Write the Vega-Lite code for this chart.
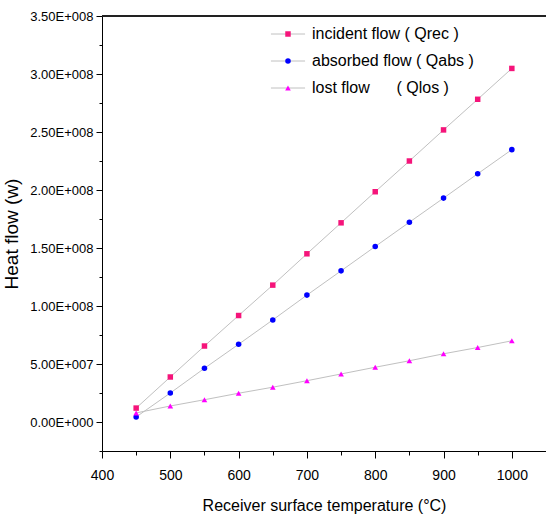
{
  "$schema": "https://vega.github.io/schema/vega-lite/v6.json",
  "width": 444,
  "height": 435,
  "autosize": "none",
  "padding": {"left": 102, "top": 16, "right": 0, "bottom": 68},
  "background": "white",
  "config": {
    "view": {"stroke": null},
    "font": "Liberation Sans",
    "axis": {
      "grid": false,
      "domainColor": "#000000",
      "domainWidth": 1,
      "tickColor": "#000000",
      "tickWidth": 1,
      "labelColor": "#000000",
      "labelFont": "Liberation Sans",
      "labelFontSize": 13,
      "titleFont": "Liberation Sans",
      "titleFontWeight": "normal",
      "titleColor": "#000000"
    },
    "legend": {
      "labelFont": "Liberation Sans",
      "labelFontSize": 16,
      "labelColor": "#000000",
      "labelLimit": 400,
      "padding": 0
    }
  },
  "data": {
    "values": [
      {"T": 450, "series": "incident flow ( Qrec )", "Q": 12000000},
      {"T": 500, "series": "incident flow ( Qrec )", "Q": 38800000},
      {"T": 550, "series": "incident flow ( Qrec )", "Q": 65500000},
      {"T": 600, "series": "incident flow ( Qrec )", "Q": 91800000},
      {"T": 650, "series": "incident flow ( Qrec )", "Q": 118000000},
      {"T": 700, "series": "incident flow ( Qrec )", "Q": 145000000},
      {"T": 750, "series": "incident flow ( Qrec )", "Q": 171700000},
      {"T": 800, "series": "incident flow ( Qrec )", "Q": 198500000},
      {"T": 850, "series": "incident flow ( Qrec )", "Q": 225000000},
      {"T": 900, "series": "incident flow ( Qrec )", "Q": 251800000},
      {"T": 950, "series": "incident flow ( Qrec )", "Q": 278200000},
      {"T": 1000, "series": "incident flow ( Qrec )", "Q": 304800000},
      {"T": 450, "series": "absorbed flow ( Qabs )", "Q": 4300000},
      {"T": 500, "series": "absorbed flow ( Qabs )", "Q": 25000000},
      {"T": 550, "series": "absorbed flow ( Qabs )", "Q": 46300000},
      {"T": 600, "series": "absorbed flow ( Qabs )", "Q": 67000000},
      {"T": 650, "series": "absorbed flow ( Qabs )", "Q": 88000000},
      {"T": 700, "series": "absorbed flow ( Qabs )", "Q": 109400000},
      {"T": 750, "series": "absorbed flow ( Qabs )", "Q": 130300000},
      {"T": 800, "series": "absorbed flow ( Qabs )", "Q": 151300000},
      {"T": 850, "series": "absorbed flow ( Qabs )", "Q": 172200000},
      {"T": 900, "series": "absorbed flow ( Qabs )", "Q": 193000000},
      {"T": 950, "series": "absorbed flow ( Qabs )", "Q": 214000000},
      {"T": 1000, "series": "absorbed flow ( Qabs )", "Q": 234800000},
      {"T": 450, "series": "lost flow\u00a0\u00a0\u00a0\u00a0\u00a0\u00a0( Qlos )", "Q": 7800000},
      {"T": 500, "series": "lost flow\u00a0\u00a0\u00a0\u00a0\u00a0\u00a0( Qlos )", "Q": 13800000},
      {"T": 550, "series": "lost flow\u00a0\u00a0\u00a0\u00a0\u00a0\u00a0( Qlos )", "Q": 19200000},
      {"T": 600, "series": "lost flow\u00a0\u00a0\u00a0\u00a0\u00a0\u00a0( Qlos )", "Q": 24800000},
      {"T": 650, "series": "lost flow\u00a0\u00a0\u00a0\u00a0\u00a0\u00a0( Qlos )", "Q": 30000000},
      {"T": 700, "series": "lost flow\u00a0\u00a0\u00a0\u00a0\u00a0\u00a0( Qlos )", "Q": 35600000},
      {"T": 750, "series": "lost flow\u00a0\u00a0\u00a0\u00a0\u00a0\u00a0( Qlos )", "Q": 41400000},
      {"T": 800, "series": "lost flow\u00a0\u00a0\u00a0\u00a0\u00a0\u00a0( Qlos )", "Q": 47200000},
      {"T": 850, "series": "lost flow\u00a0\u00a0\u00a0\u00a0\u00a0\u00a0( Qlos )", "Q": 52800000},
      {"T": 900, "series": "lost flow\u00a0\u00a0\u00a0\u00a0\u00a0\u00a0( Qlos )", "Q": 58800000},
      {"T": 950, "series": "lost flow\u00a0\u00a0\u00a0\u00a0\u00a0\u00a0( Qlos )", "Q": 64200000},
      {"T": 1000, "series": "lost flow\u00a0\u00a0\u00a0\u00a0\u00a0\u00a0( Qlos )", "Q": 70000000}
    ]
  },
  "layer": [
    {
      "mark": {"type": "line", "strokeWidth": 1},
      "encoding": {
        "x": {
          "field": "T", "type": "quantitative",
          "scale": {"domain": [400, 1050], "nice": false, "zero": false},
          "axis": {
            "title": "Receiver surface temperature (°C)",
            "titleFontSize": 16,
            "titlePadding": 15,
            "format": "d",
            "labelFlush": false,
            "labelFontSize": 14,
            "tickCount": 40,
            "values": [400, 450, 500, 550, 600, 650, 700, 750, 800, 850, 900, 950, 1000, 1050],
            "labelExpr": "datum.value % 100 == 0 ? datum.label : ''",
            "labelPadding": 10,
            "tickSize": {"condition": {"test": "datum.value % 100 == 0", "value": 7}, "value": 4}
          }
        },
        "y": {
          "field": "Q", "type": "quantitative",
          "scale": {"domain": [-25000000, 350000000], "nice": false, "zero": false},
          "axis": {
            "title": "Heat flow (w)",
            "titleFontSize": 19,
            "titlePadding": 8,
            "tickCount": 40,
            "values": [-25000000, 0, 25000000, 50000000, 75000000, 100000000, 125000000, 150000000, 175000000, 200000000, 225000000, 250000000, 275000000, 300000000, 325000000, 350000000],
            "labelExpr": "datum.value == 0 ? '0.00E+000' : datum.value == 50000000 ? '5.00E+007' : datum.value == 100000000 ? '1.00E+008' : datum.value == 150000000 ? '1.50E+008' : datum.value == 200000000 ? '2.00E+008' : datum.value == 250000000 ? '2.50E+008' : datum.value == 300000000 ? '3.00E+008' : datum.value == 350000000 ? '3.50E+008' : ''",
            "labelPadding": 3,
            "tickSize": {"condition": {"test": "datum.value % 50000000 == 0", "value": 6}, "value": 3}
          }
        },
        "detail": {"field": "series", "type": "nominal"},
        "stroke": {
          "field": "series", "type": "nominal",
          "scale": {"range": ["#c0c0c0", "#c0c0c0", "#c0c0c0"]},
          "legend": {
            "orient": "none",
            "legendX": 178,
            "legendY": 10,
            "title": null,
            "symbolType": "M-5.4,0H5.4",
            "symbolSize": 40,
            "symbolStrokeWidth": 1,
            "labelColor": "transparent",
            "labelOffset": 16,
            "rowPadding": 11,
            "zindex": 0
          }
        }
      }
    },
    {
      "mark": {"type": "point", "filled": true, "opacity": 1},
      "encoding": {
        "x": {"field": "T", "type": "quantitative"},
        "y": {"field": "Q", "type": "quantitative"},
        "color": {
          "field": "series", "type": "nominal",
          "scale": {
            "domain": ["incident flow ( Qrec )", "absorbed flow ( Qabs )", "lost flow\u00a0\u00a0\u00a0\u00a0\u00a0\u00a0( Qlos )"],
            "range": ["#f5147a", "#0000ff", "#ff00ff"]
          },
          "legend": {
            "orient": "none",
            "legendX": 178,
            "legendY": 10,
            "title": null,
            "symbolSize": 36,
            "labelOffset": 16,
            "rowPadding": 11,
            "zindex": 1
          }
        },
        "shape": {
          "field": "series", "type": "nominal",
          "scale": {
            "domain": ["incident flow ( Qrec )", "absorbed flow ( Qabs )", "lost flow\u00a0\u00a0\u00a0\u00a0\u00a0\u00a0( Qlos )"],
            "range": ["square", "circle", "triangle-up"]
          },
          "legend": {
            "orient": "none",
            "legendX": 178,
            "legendY": 10,
            "title": null,
            "symbolSize": 36,
            "labelOffset": 16,
            "rowPadding": 11,
            "zindex": 1
          }
        },
        "size": {
          "field": "series", "type": "nominal",
          "scale": {
            "domain": ["incident flow ( Qrec )", "absorbed flow ( Qabs )", "lost flow\u00a0\u00a0\u00a0\u00a0\u00a0\u00a0( Qlos )"],
            "range": [30, 32, 70]
          },
          "legend": null
        }
      }
    },
    {
      "mark": {"type": "rule", "strokeWidth": 2, "color": "#222222"},
      "encoding": {"y": {"datum": 350000000}}
    }
  ]
}
